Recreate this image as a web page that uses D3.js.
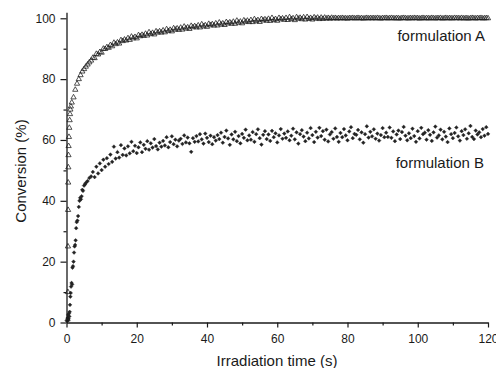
<!DOCTYPE html>
<html><head><meta charset="utf-8">
<script src="https://cdn.jsdelivr.net/npm/d3@7"></script>
<style>
html,body{margin:0;padding:0;background:#fff;}
svg text{font-family:"Liberation Sans",Arial,sans-serif;fill:#1a1a1a;}
</style></head>
<body><svg id="c" width="496" height="368"></svg>
<script>
// ---- data ----
const xTicks = [0, 20, 40, 60, 80, 100, 120];
const xMinor = [10, 30, 50, 70, 90, 110];
const yTicks = [0, 20, 40, 60, 80, 100];
const yMinor = [10, 30, 50, 70, 90];
const seriesNames = ["formulation A", "formulation B"];

// early (densely sampled) points
const tEarlyA = [0.3,0.4,0.42,0.45,0.48,0.52,0.56,0.6,0.7,0.8,0.9,1.0,1.1,1.25,1.5,2,2.5,3,3.5,4,4.5,5,5.5,6,6.5,7];
const vEarlyA = [1,10,25,37,46,51,55,58,61,64,66.5,68.5,70,71,72.3,74,76.5,78.5,80,81.3,82.5,83.3,84.1,84.8,85.5,86.1];
const tEarlyB = [0.2,0.3,0.4,0.5,0.6,0.7,0.8,0.9,1.0,1.1,1.2,1.3,1.45,1.6,1.7,1.85,2.0,2.15,2.3,2.45,2.6,2.75,2.9,3.1,3.3,3.5,3.7,3.9,4.1,4.3,4.5,4.7,5.0,5.3,5.6,6.0,6.5,7.0];
const vEarlyB = [0.5,1.5,0.8,2.5,1.2,3.0,2.0,3.5,5.8,8.5,9.7,11.8,13,12.5,18,18.5,20,23,25,25.5,27,31,33,33.5,35,38,40,41,40.5,41.5,43.6,43.3,45,45.5,46,46.5,47.5,48];

// regular sampling grid (s)
const tGrid = [7.5,8,8.5,9,9.5,10,10.5,11,11.5,12,
12.5,13,13.5,14,14.5,15,15.5,16,16.5,17,
17.5,18,18.5,19,19.5,20,20.5,21,21.5,22,
22.5,23,23.5,24,24.5,25,25.5,26,26.5,27,
27.5,28,28.5,29,29.5,30,30.5,31,31.5,32,
32.5,33,33.5,34,34.5,35,35.5,36,36.5,37,
37.5,38,38.5,39,39.5,40,40.5,41,41.5,42,
42.5,43,43.5,44,44.5,45,45.5,46,46.5,47,
47.5,48,48.5,49,49.5,50,50.5,51,51.5,52,
52.5,53,53.5,54,54.5,55,55.5,56,56.5,57,
57.5,58,58.5,59,59.5,60,60.5,61,61.5,62,
62.5,63,63.5,64,64.5,65,65.5,66,66.5,67,
67.5,68,68.5,69,69.5,70,70.5,71,71.5,72,
72.5,73,73.5,74,74.5,75,75.5,76,76.5,77,
77.5,78,78.5,79,79.5,80,80.5,81,81.5,82,
82.5,83,83.5,84,84.5,85,85.5,86,86.5,87,
87.5,88,88.5,89,89.5,90,90.5,91,91.5,92,
92.5,93,93.5,94,94.5,95,95.5,96,96.5,97,
97.5,98,98.5,99,99.5,100,100.5,101,101.5,102,
102.5,103,103.5,104,104.5,105,105.5,106,106.5,107,
107.5,108,108.5,109,109.5,110,110.5,111,111.5,112,
112.5,113,113.5,114,114.5,115,115.5,116,116.5,117,
117.5,118,118.5,119,119.5,120];

const vGridA = [87.0,86.9,88.3,88.1,88.9,88.7,90.0,89.9,90.5,90.3,
91.2,90.8,91.95,91.5,92.05,91.7,92.8,92.5,93.0,92.7,
93.45,92.9,93.95,93.4,93.85,93.4,94.45,94.1,94.55,94.2,
94.9,94.35,95.4,94.8,95.2,94.7,95.7,95.3,95.7,95.3,
96.0,95.4,96.4,95.8,96.2,95.7,96.7,96.25,96.65,96.2,
96.9,96.3,97.25,96.65,97.0,96.5,97.5,97.05,97.4,97.0,
97.65,97.0,98.0,97.35,97.7,97.2,98.15,97.7,98.05,97.6,
98.3,97.65,98.6,97.95,98.3,97.8,98.75,98.3,98.65,98.2,
98.85,98.2,99.2,98.55,98.9,98.35,99.3,98.85,99.2,98.75,
99.4,98.75,99.7,99.05,99.4,98.8,99.75,99.3,99.65,99.2,
99.8,99.15,100.1,99.4,99.75,99.2,100.1,99.65,99.95,99.5,
100.1,99.45,100.35,99.7,100.0,99.4,100.35,99.85,100.15,99.7,
100.3,99.6,100.4,99.8,100.1,99.6,100.3,99.9,100.2,99.75,
100.2,99.8,100.2,99.9,100.1,99.85,100.15,99.95,100.1,99.9,
100.05,99.95,100.1,99.95,100.0,99.9,100.05,100.0,100.1,99.95,
100.0,100.1,99.95,100.05,99.9,100.0,100.1,99.95,100.05,100.0,
100.05,99.95,100.1,100.0,99.9,100.05,100.0,100.1,99.95,100.0,
100.1,100.0,99.95,100.05,100.0,99.9,100.05,100.1,100.0,99.95,
100.0,100.05,99.95,100.1,100.0,100.05,99.9,100.0,100.1,99.95,
100.05,100.0,99.95,100.1,100.0,99.95,100.05,100.0,100.1,99.9,
100.0,100.1,99.95,100.05,100.0,99.95,100.1,100.0,100.05,99.95,
100.1,99.95,100.0,100.05,99.9,100.0,100.1,100.0,99.95,100.05,
100.0,100.1,99.95,100.0,100.05,100.0];

const vGridB = [49.5,47.8,51.2,49.0,52.3,50.1,53.5,51.2,54.0,52.1,
55.2,52.8,57.8,53.9,56.0,54.2,58.3,55.1,57.2,54.9,
57.9,55.6,59.4,56.3,58.1,55.7,57.6,59.2,56.0,58.4,
57.1,59.6,56.8,58.9,57.5,60.3,58.0,56.9,59.1,57.8,
59.7,58.2,60.9,57.6,59.3,61.2,58.6,60.1,57.9,59.8,
60.4,58.7,61.5,59.2,60.8,58.9,56.1,60.6,59.4,61.3,
59.5,61.9,60.2,58.8,62.1,60.7,59.3,61.4,58.6,60.9,
59.8,61.6,60.3,62.4,59.1,61.0,63.1,60.5,58.4,61.8,
60.2,62.7,59.6,61.3,58.9,62.0,60.7,63.4,59.9,61.5,
60.1,62.6,59.4,61.9,63.5,60.6,58.5,61.7,62.9,60.3,
61.8,59.7,63.0,60.9,62.2,59.2,61.5,63.6,60.4,62.1,
60.7,62.8,59.9,61.4,63.7,60.2,62.5,58.8,61.9,63.2,
61.1,59.6,62.4,60.5,63.9,61.6,59.3,62.7,60.8,64.0,
61.3,62.9,60.1,63.4,59.5,61.8,62.6,60.4,63.8,61.0,
59.4,62.3,60.9,63.6,61.5,59.9,62.8,64.2,60.6,62.0,
61.7,63.3,60.2,62.5,59.1,61.9,64.5,60.8,62.7,61.2,
63.5,60.4,62.1,59.8,61.6,63.9,60.9,62.4,61.0,64.1,
60.7,62.8,59.6,61.8,63.1,60.3,62.6,64.3,61.4,59.9,
62.2,60.6,63.7,61.3,59.4,62.9,60.5,64.0,61.9,62.4,
60.1,63.2,61.7,59.7,62.5,64.4,60.8,61.5,63.4,60.2,
62.7,61.1,59.3,63.8,61.9,60.6,62.3,64.1,61.2,59.8,
62.9,61.6,63.5,60.4,62.2,64.6,61.0,60.3,63.1,61.8,
62.5,60.9,63.6,61.4,64.2,62.0];

// ---- chart ----
const svg = d3.select("#c");
const x = d3.scaleLinear().domain([0, 120]).range([66.5, 488]);
const y = d3.scaleLinear().domain([0, 102]).range([322.5, 12.2]);
const ink = "#1a1a1a";

const ptsA = tEarlyA.map((t,i)=>[t, vEarlyA[i]]).concat(tGrid.map((t,i)=>[t, vGridA[i]]));
const ptsB = tEarlyB.map((t,i)=>[t, vEarlyB[i]]).concat(tGrid.map((t,i)=>[t, vGridB[i]]));

// series B: filled small diamonds
const diamond = d3.symbol().type(d3.symbolSquare).size(7)();
svg.append("g").selectAll("path").data(ptsB).join("path")
  .attr("d", diamond)
  .attr("transform", d => `translate(${x(d[0])},${y(d[1])}) rotate(45)`)
  .attr("fill", "#222").attr("stroke", "#222").attr("stroke-width", 0.4);

// series A: open triangles
const tri = d3.symbol().type(d3.symbolTriangle).size(12)();
svg.append("g").selectAll("path").data(ptsA).join("path")
  .attr("d", tri)
  .attr("transform", d => `translate(${x(d[0])},${y(d[1])})`)
  .attr("fill", "none").attr("stroke", ink).attr("stroke-width", 0.75);

// axes
function styleAxis(g){
  g.selectAll(".domain").attr("stroke", ink).attr("stroke-width", 1.3);
  g.selectAll(".tick line").attr("stroke", ink).attr("stroke-width", 1.2);
  g.selectAll(".tick text").attr("font-size", 12).attr("fill", ink)
    .style("font-family", '"Liberation Sans", Arial, sans-serif');
}
const xAxis = svg.append("g").attr("transform", `translate(0,${y(0)})`)
  .call(d3.axisBottom(x).tickValues(xTicks).tickFormat(d3.format("d")).tickSize(5).tickSizeOuter(0).tickPadding(7));
styleAxis(xAxis);
const xAxisMinor = svg.append("g").attr("transform", `translate(0,${y(0)})`)
  .call(d3.axisBottom(x).tickValues(xMinor).tickFormat("").tickSize(3).tickSizeOuter(0));
xAxisMinor.select(".domain").remove();
styleAxis(xAxisMinor);

const yAxis = svg.append("g").attr("transform", `translate(${x(0)},0)`)
  .call(d3.axisLeft(y).tickValues(yTicks).tickFormat(d3.format("d")).tickSize(6).tickSizeOuter(0).tickPadding(5));
styleAxis(yAxis);
const yAxisMinor = svg.append("g").attr("transform", `translate(${x(0)},0)`)
  .call(d3.axisLeft(y).tickValues(yMinor).tickFormat("").tickSize(3).tickSizeOuter(0));
yAxisMinor.select(".domain").remove();
styleAxis(yAxisMinor);

// axis titles
svg.append("text").attr("x", 277).attr("y", 366).attr("text-anchor", "middle")
  .attr("font-size", 15).text("Irradiation time (s)");
svg.append("text").attr("transform", "translate(26,171) rotate(-90)").attr("text-anchor", "middle")
  .attr("font-size", 15).text("Conversion (%)");

// series labels
svg.append("text").attr("x", 485).attr("y", 41).attr("text-anchor", "end")
  .attr("font-size", 15).text(seriesNames[0]);
svg.append("text").attr("x", 484).attr("y", 168).attr("text-anchor", "end")
  .attr("font-size", 15).text(seriesNames[1]);
</script></body></html>
